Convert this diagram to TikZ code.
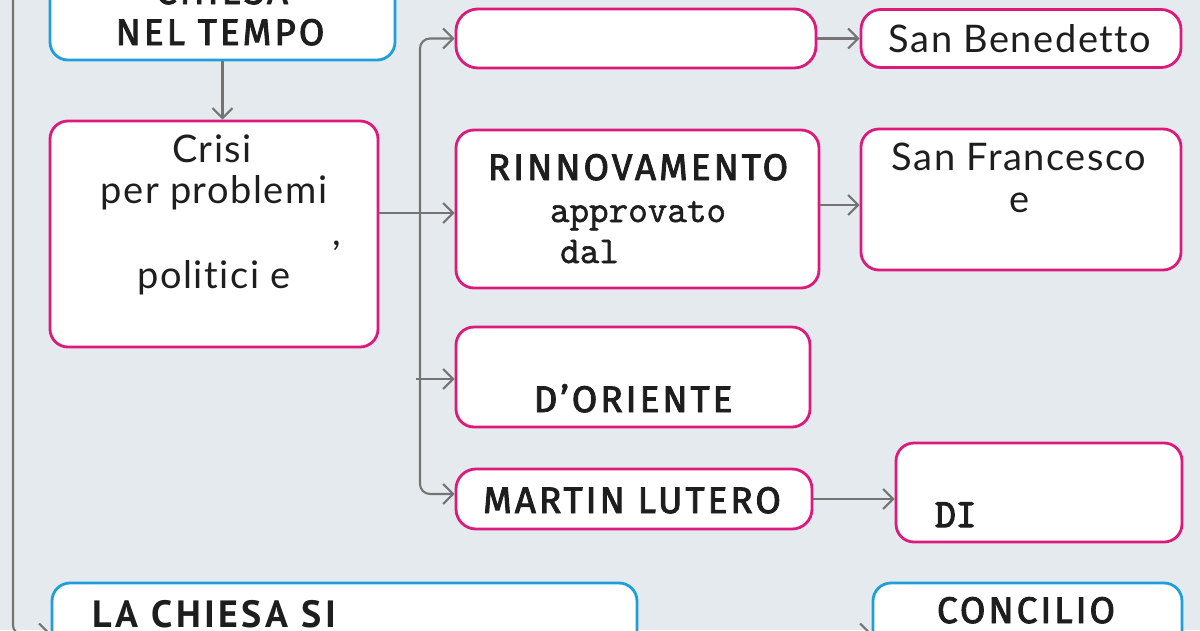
\documentclass[tikz,border=0pt]{standalone}
\usepackage{fontspec}
\usetikzlibrary{arrows.meta}
\newfontfamily\capsf[LetterSpace=8,FakeBold=2.4]{Fira Sans}
\newfontfamily\lowf[LetterSpace=4,Ligatures=NoCommon]{Lato}
\newfontfamily\monof[FakeBold=1.5]{Latin Modern Mono}
\newfontfamily\monobf[FakeBold=3.5]{Latin Modern Mono}
\newfontfamily\narf[LetterSpace=9]{PT Sans}
\definecolor{bgc}{HTML}{E5EAEE}
\definecolor{mag}{HTML}{DC1A7C}
\definecolor{blu}{HTML}{1E9FDA}
\definecolor{gry}{HTML}{747474}
\definecolor{txt}{HTML}{1E1E1E}
\tikzset{
  pbox/.style={draw=mag, fill=white, line width=2.8pt, rounded corners=18pt, inner sep=0pt},
  bbox/.style={draw=blu, fill=white, line width=2.8pt, rounded corners=18pt, inner sep=0pt},
  arr/.style={draw=gry, line width=2.1pt, -{Straight Barb[length=10pt,width=20pt]}},
  tx/.style={text=txt, inner sep=0pt, anchor=base},
  capt/.style={tx, font=\capsf\fontsize{37}{40}\selectfont},
  lowt/.style={tx, font=\lowf\fontsize{38}{40}\selectfont},
  monot/.style={tx, font=\monof\fontsize{38}{40}\selectfont},
}
\begin{document}
\begin{tikzpicture}[x=1pt,y=-1pt]
\useasboundingbox (0,0) rectangle (1200,630);
\clip (0,0) rectangle (1200,630);
\fill[bgc] (0,0) rectangle (1200,630);

% boxes
\node[bbox, minimum width=345pt, minimum height=120pt] (tb) at (222.5,0) {};
\node[pbox, minimum width=328pt, minimum height=226pt] (cr) at (214,234) {};
\node[pbox, minimum width=360pt, minimum height=59pt, rounded corners=22pt] (e1) at (636,38.5) {};
\node[pbox, minimum width=320pt, minimum height=58pt, rounded corners=20pt] (sb) at (1021,38.5) {};
\node[pbox, minimum width=363pt, minimum height=158pt] (rin) at (637.5,209) {};
\node[pbox, minimum width=320pt, minimum height=141pt] (sf) at (1021,199.5) {};
\node[pbox, minimum width=354pt, minimum height=100pt] (dor) at (633,377) {};
\node[pbox, minimum width=356pt, minimum height=60pt, rounded corners=20pt] (ml) at (634,499) {};
\node[pbox, minimum width=286pt, minimum height=99pt] (di) at (1039,492.5) {};
\node[bbox, minimum width=585pt, minimum height=117pt] (lcs) at (344.5,641.5) {};
\node[bbox, minimum width=309pt, minimum height=117pt] (con) at (1027.5,641.5) {};

% texts
\node[capt] (t1) at (222,4) {CHIESA};
\node[capt] (t2) at (220,45) {NEL TEMPO};
\node[lowt] (t3) at (212,162) {Crisi};
\node[lowt] (t4) at (214,203) {per problemi};
\node[lowt] (t5) at (337,245) {,};
\node[lowt] (t6) at (214,288) {politici e};
\node[capt] (t7) at (638,180) {RINNOVAMENTO};
\node[monot] (t8) at (638,222) {approvato};
\node[monot, anchor=base west] (t9) at (560,263) {dal};
\node[lowt] (t10) at (1020,52) {San Benedetto};
\node[lowt] (t11) at (1019,170) {San Francesco};
\node[lowt] (t12) at (1020,212) {e};
\node[capt] (t13) at (633,412) {D’ORIENTE};
\node[capt] (t14) at (632,513) {MARTIN LUTERO};
\node[tx, anchor=base west, font=\monobf\fontsize{40}{44}\selectfont] (t15) at (935,527) {DI};
\node[tx, anchor=base west, font=\narf\bfseries\fontsize{38}{40}\selectfont] (t16) at (92,627) {LA CHIESA SI};
\node[capt] (t17) at (1026,623) {CONCILIO};

% connectors
\coordinate (j) at (420,213);
\coordinate (k) at (416,379);
\coordinate (top) at (13,-20);
\draw[arr] (tb.south) -- (tb.south |- cr.north);
\draw[arr] (cr.east |- j) -- (rin.west |- j);
\draw[arr, rounded corners=10pt] (j) |- (e1.west);
\draw[arr, rounded corners=10pt] (j) |- ([yshift=5pt]ml.west);
\draw[arr] (k) -- (k -| dor.west);
\draw[arr] (e1.east) -- (sb.west);
\draw[arr] ([yshift=4pt]rin.east) -- ([yshift=4pt]rin.east -| sf.west);
\draw[arr] (ml.east) -- (ml.east -| di.west);
\draw[arr, rounded corners=8pt] (top) |- ([yshift=8pt]lcs.west);
\draw[arr] ([yshift=8pt]lcs.east) -- ([yshift=8pt]con.west);
\end{tikzpicture}
\end{document}
